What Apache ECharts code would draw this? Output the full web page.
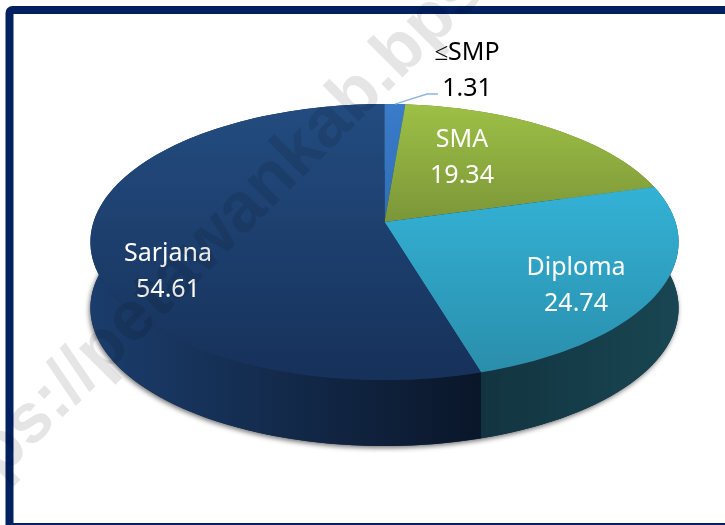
<!DOCTYPE html>
<html>
<head>
<meta charset="utf-8">
<style>html,body{margin:0;padding:0;background:#fff}#main{width:725px;height:525px}</style>
<script src="https://cdn.jsdelivr.net/npm/echarts@6/dist/echarts.min.js"></script>
</head>
<body>
<div id="main"></div>
<script>
const categories = ['≤SMP', 'SMA', 'Diploma', 'Sarjana'];
const values = [1.31, 19.34, 24.74, 54.61];

const topColors = [['#3a7cc9', '#2f6db8'], ['#9dc046', '#7c9638'], ['#33b2d6', '#2a8eab'], ['#234c80', '#16315a']];
const wallColors = [['#1c4a80', '#1c4a80'], ['#5f7430', '#5f7430'], ['#123440', '#184652'], ['#1b3d6c', '#0a1629']];
const labelColors = ['#000', '#fff', '#fff', '#fff'];
// label centre of each slice, px
const labelX = [467, 462, 576, 168];
const labelY = [70, 157, 285, 271];

// pie is drawn in perspective: disc centre does not sit at ellipse centre
const apexX = 384.5, apexY = 222, halfW = 291, scaleV = 135.1, persp = -0.145, depth = 66;
const total = values.reduce((a, b) => a + b, 0);

function project(deg, shift) {
  const t = deg * Math.PI / 180;
  const u = Math.sin(t), v = -Math.cos(t);
  const d = 1 + persp * v;
  return [apexX + halfW * u / d, apexY + scaleV * v / d + (shift || 0)];
}
function arc(from, to, shift) {
  const pts = [];
  const n = Math.max(2, Math.ceil((to - from) / 2));
  for (let i = 0; i <= n; i++) pts.push(project(from + (to - from) * i / n, shift));
  return pts;
}
function sliceAngles(idx) {
  let sum = 0;
  for (let i = 0; i < idx; i++) sum += values[i];
  return [sum / total * 360, (sum + values[idx]) / total * 360];
}
function grad(c, horizontal) {
  return new echarts.graphic.LinearGradient(0, 0, horizontal ? 1 : 0, horizontal ? 0 : 1, [
    { offset: 0, color: c[0] }, { offset: 1, color: c[1] }
  ]);
}

const chart = echarts.init(document.getElementById('main'));
chart.setOption({
  animation: false,
  graphic: [
    { type: 'rect', z: 0, silent: true, shape: { x: 9.5, y: 10, width: 760, height: 517, r: 3 },
      style: { fill: 'none', stroke: '#002060', lineWidth: 8 } },
    { type: 'text', z: 100, silent: true, x: -52, y: 554, rotation: Math.PI / 4, originX: 0, originY: 0,
      style: { text: 'https://petawankab.bps.go.id', x: 0, y: 0, verticalAlign: 'bottom',
        font: 'bold 70px "Liberation Sans"', fill: 'rgba(0,0,0,0.1)' } }
  ],
  series: [
    { // extruded outline, only there to cast the soft shadow
      type: 'custom', coordinateSystem: 'none', z: 1, silent: true, data: [total],
      renderItem: () => ({
        type: 'polygon',
        shape: { points: arc(0, 360, depth) },
        style: { fill: '#1a2b44', shadowBlur: 5, shadowColor: 'rgba(0,0,0,0.55)', shadowOffsetX: -1, shadowOffsetY: 2 }
      })
    },
    { // side walls
      type: 'custom', coordinateSystem: 'none', z: 2, silent: true, data: values,
      renderItem: (params) => {
        const [a, b] = sliceAngles(params.dataIndex);
        const pts = arc(a, b, 0).concat(arc(a, b, depth).reverse());
        return { type: 'polygon', shape: { points: pts }, style: { fill: grad(wallColors[params.dataIndex], true) } };
      }
    },
    { // top faces
      type: 'custom', coordinateSystem: 'none', z: 3, silent: true, data: values,
      renderItem: (params) => {
        const [a, b] = sliceAngles(params.dataIndex);
        const pts = [[apexX, apexY]].concat(arc(a, b, 0));
        return { type: 'polygon', shape: { points: pts }, style: { fill: grad(topColors[params.dataIndex], false) } };
      }
    },
    { // labels, plus the leader line of the small slice
      type: 'custom', coordinateSystem: 'none', z: 4, silent: true, data: values,
      renderItem: (params, api) => {
        const i = params.dataIndex;
        const children = [{
          type: 'text',
          style: {
            text: categories[i] + '\n' + api.value(0), x: labelX[i], y: labelY[i] + 1, align: 'center', verticalAlign: 'middle',
            font: '25px "Noto Sans"', lineHeight: 35.5, fill: labelColors[i]
          }
        }];
        if (i === 0) {
          children.push({
            type: 'polyline',
            shape: { points: [project(sliceAngles(0)[1] / 2), [427, 94], [438, 94]] },
            style: { fill: 'none', stroke: '#8db4e2', lineWidth: 1.5 }
          });
        }
        return { type: 'group', children };
      }
    }
  ]
});
</script>
</body>
</html>
